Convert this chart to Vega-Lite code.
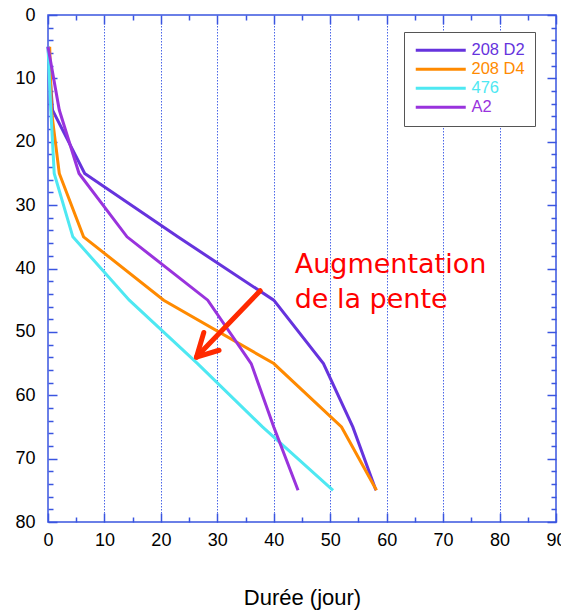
{
  "$schema": "https://vega.github.io/schema/vega-lite/v6.json",
  "width": 508,
  "height": 507,
  "autosize": {"type": "none"},
  "padding": {"left": 48, "top": 15, "right": 5, "bottom": 89},
  "config": {
    "view": {"stroke": "#3a55e0", "strokeWidth": 1.5},
    "font": "Liberation Sans",
    "legend": {"orient": "none"}
  },
  "datasets": {
    "series": [
      {"serie": "208 D2", "prof": 5, "duree": 0},
      {"serie": "208 D2", "prof": 15, "duree": 0.8},
      {"serie": "208 D2", "prof": 25, "duree": 6.5},
      {"serie": "208 D2", "prof": 35, "duree": 23},
      {"serie": "208 D2", "prof": 45, "duree": 40},
      {"serie": "208 D2", "prof": 55, "duree": 48.8},
      {"serie": "208 D2", "prof": 65, "duree": 54},
      {"serie": "208 D2", "prof": 75, "duree": 58.1},
      {"serie": "208 D4", "prof": 5, "duree": 0.3},
      {"serie": "208 D4", "prof": 15, "duree": 0.6},
      {"serie": "208 D4", "prof": 25, "duree": 2},
      {"serie": "208 D4", "prof": 35, "duree": 6.3},
      {"serie": "208 D4", "prof": 45, "duree": 20.5},
      {"serie": "208 D4", "prof": 55, "duree": 40},
      {"serie": "208 D4", "prof": 65, "duree": 52},
      {"serie": "208 D4", "prof": 75, "duree": 58.2},
      {"serie": "476", "prof": 5, "duree": 0},
      {"serie": "476", "prof": 15, "duree": 0.5},
      {"serie": "476", "prof": 25, "duree": 1.1},
      {"serie": "476", "prof": 35, "duree": 4.4},
      {"serie": "476", "prof": 45, "duree": 14.4},
      {"serie": "476", "prof": 55, "duree": 26.5},
      {"serie": "476", "prof": 65, "duree": 38},
      {"serie": "476", "prof": 75, "duree": 50.5},
      {"serie": "A2", "prof": 5, "duree": 0},
      {"serie": "A2", "prof": 15, "duree": 2},
      {"serie": "A2", "prof": 25, "duree": 5.5},
      {"serie": "A2", "prof": 35, "duree": 14},
      {"serie": "A2", "prof": 45, "duree": 28.3},
      {"serie": "A2", "prof": 55, "duree": 36},
      {"serie": "A2", "prof": 65, "duree": 40},
      {"serie": "A2", "prof": 75, "duree": 44.3}
    ],
    "notes": [
      {"label": "Augmentation", "duree": 43.7, "prof": 39.5},
      {"label": "de la pente", "duree": 43.7, "prof": 45}
    ],
    "arrow": [
      {"seg": "shaft", "step": 1, "duree": 37.6, "prof": 43.5},
      {"seg": "shaft", "step": 2, "duree": 26.6, "prof": 53.7},
      {"seg": "arm1", "step": 1, "duree": 27.6, "prof": 50.1},
      {"seg": "arm1", "step": 2, "duree": 26.3, "prof": 54},
      {"seg": "arm2", "step": 1, "duree": 30.3, "prof": 52.9},
      {"seg": "arm2", "step": 2, "duree": 26.3, "prof": 54}
    ]
  },
  "layer": [
    {
      "data": {"name": "series"},
      "mark": {"type": "line", "strokeWidth": 3},
      "encoding": {
        "x": {
          "field": "duree", "type": "quantitative",
          "scale": {"domain": [0, 90], "nice": false, "zero": false},
          "axis": {
            "orient": "bottom",
            "values": [0,5,10,15,20,25,30,35,40,45,50,55,60,65,70,75,80,85,90],
            "labelExpr": "datum.value % 10 === 0 ? datum.label : ''",
            "tickSize": {"condition": {"test": "datum.value % 10 === 0", "value": -9}, "value": -5},
            "tickColor": "#3a55e0", "tickWidth": 1.5,
            "domain": false,
            "grid": true,
            "gridColor": {"condition": {"test": "datum.value % 10 === 0 && datum.value > 0 && datum.value < 90", "value": "#4a66e8"}, "value": "transparent"},
            "gridDash": [1.5, 1.5], "gridWidth": 1,
            "labelFontSize": 18, "labelColor": "black", "labelPadding": 18, "labelFlush": false,
            "title": "Durée (jour)", "titleFontSize": 22, "titleFontWeight": "normal", "titleColor": "black", "titlePadding": 38
          }
        },
        "y": {
          "field": "prof", "type": "quantitative",
          "scale": {"domain": [0, 80], "nice": false, "zero": false, "reverse": true},
          "axis": {
            "orient": "left",
            "values": [0,2,4,6,8,10,12,14,16,18,20,22,24,26,28,30,32,34,36,38,40,42,44,46,48,50,52,54,56,58,60,62,64,66,68,70,72,74,76,78,80],
            "labelExpr": "datum.value % 10 === 0 ? datum.label : ''",
            "tickSize": {"condition": {"test": "datum.value % 10 === 0", "value": -9}, "value": -5},
            "tickColor": "#3a55e0", "tickWidth": 1.5,
            "domain": false, "grid": false,
            "labelFontSize": 18, "labelColor": "black", "labelPadding": 22, "labelFlush": false,
            "title": null
          }
        },
        "color": {
          "field": "serie", "type": "nominal",
          "scale": {"domain": ["208 D2", "208 D4", "476", "A2"], "range": ["#6633dd", "#ff8a00", "#4ee8f2", "#9933dd"]},
          "legend": {
            "title": null,
            "orient": "none", "legendX": 356, "legendY": 17,
            "strokeColor": "#555555", "fillColor": "white", "padding": 10,
            "symbolType": "M-1.3,0H8.7", "symbolSize": 100, "symbolStrokeWidth": 3,
            "labelFontSize": 16.5, "labelOffset": 41, "rowPadding": 2,
            "encode": {"labels": {"update": {"fill": {"scale": "color", "field": "value"}}}}
          }
        },
        "order": {"field": "prof", "type": "quantitative"}
      }
    },
    {
      "data": {"name": "notes"},
      "mark": {"type": "text", "align": "left", "baseline": "middle", "fontSize": 27, "font": "DejaVu Sans", "color": "#ff0000"},
      "encoding": {
        "x": {
          "field": "duree", "type": "quantitative",
          "scale": {"domain": [0, 90], "nice": false, "zero": false},
          "axis": {
            "orient": "top",
            "values": [0,5,10,15,20,25,30,35,40,45,50,55,60,65,70,75,80,85,90],
            "labels": false, "domain": false, "grid": false,
            "tickSize": {"condition": {"test": "datum.value % 10 === 0", "value": -9}, "value": -5},
            "tickColor": "#3a55e0", "tickWidth": 1.5, "title": null
          }
        },
        "y": {
          "field": "prof", "type": "quantitative",
          "scale": {"domain": [0, 80], "nice": false, "zero": false, "reverse": true},
          "axis": {
            "orient": "right",
            "values": [0,2,4,6,8,10,12,14,16,18,20,22,24,26,28,30,32,34,36,38,40,42,44,46,48,50,52,54,56,58,60,62,64,66,68,70,72,74,76,78,80],
            "labels": false, "domain": false, "grid": false,
            "tickSize": {"condition": {"test": "datum.value % 10 === 0", "value": -9}, "value": -5},
            "tickColor": "#3a55e0", "tickWidth": 1.5, "title": null
          }
        },
        "text": {"field": "label"}
      }
    },
    {
      "mark": {"type": "rule", "color": "#ff3300", "strokeWidth": 5, "strokeDash": [14, 7]},
      "encoding": {"y": {"datum": 50, "type": "quantitative", "axis": null}}
    },
    {
      "data": {"name": "arrow"},
      "mark": {"type": "line", "color": "#ff2a00", "strokeWidth": 5, "strokeCap": "round"},
      "encoding": {
        "x": {"field": "duree", "type": "quantitative", "axis": null},
        "y": {"field": "prof", "type": "quantitative", "axis": null},
        "detail": {"field": "seg"},
        "order": {"field": "step", "type": "quantitative"}
      }
    }
  ],
  "resolve": {"axis": {"x": "independent", "y": "independent"}}
}
